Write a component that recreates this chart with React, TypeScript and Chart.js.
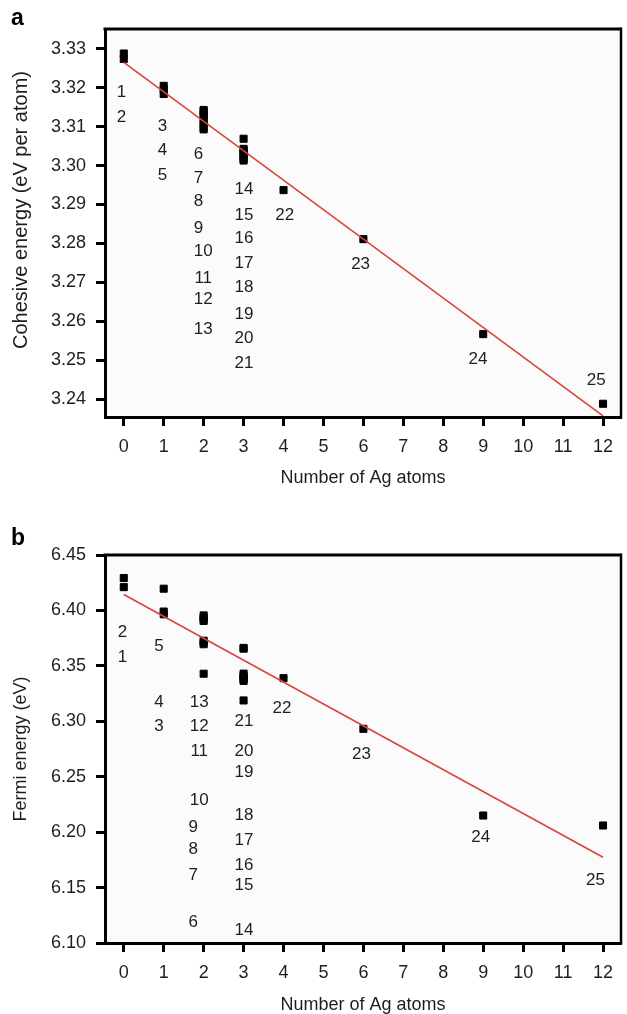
import React, { useEffect, useRef } from "react";
import { Chart, registerables } from "chart.js";
Chart.register(...registerables);

const FONT = '"Liberation Sans", Arial, Helvetica, sans-serif';
const TEXT = "#1e1e1e";
const RED = "#d8453c";

// ---------- shared ----------
const xTicks = [0, 1, 2, 3, 4, 5, 6, 7, 8, 9, 10, 11, 12];
const fitAtoms = [0, 12];

// ---------- panel a ----------
const atomsA = [0, 0, 1, 1, 1, 2, 2, 2, 2, 2, 2, 2, 2, 3, 3, 3, 3, 3, 3, 3, 3, 4, 6, 9, 12];
const cohesiveEnergy = [
  3.3288, 3.3274,
  3.3205, 3.3196, 3.3184,
  3.3143, 3.314, 3.3131, 3.3127, 3.3115, 3.3108, 3.3097, 3.3093,
  3.3069, 3.3043, 3.304, 3.3034, 3.3029, 3.3022, 3.3017, 3.3013,
  3.2937, 3.2811, 3.2567, 3.2388,
];
const cohesiveFit = [3.3265, 3.2357];
const yTicksA = [3.24, 3.25, 3.26, 3.27, 3.28, 3.29, 3.3, 3.31, 3.32, 3.33];
const labelTextA = ["1", "2", "3", "4", "5", "6", "7", "8", "9", "10", "11", "12", "13", "14", "15", "16", "17", "18", "19", "20", "21", "22", "23", "24", "25"];
const labelAtomsA = [
  -0.06, -0.06,
  0.97, 0.97, 0.97,
  1.87, 1.87, 1.87, 1.87, 1.99, 1.99, 1.99, 1.99,
  3.01, 3.01, 3.01, 3.01, 3.01, 3.01, 3.01, 3.01,
  4.03, 5.93, 8.87, 11.83,
];
const labelEnergyA = [
  3.3189, 3.3125,
  3.3102, 3.3038, 3.2974,
  3.3028, 3.2968, 3.2907, 3.284, 3.2781, 3.2711, 3.2657, 3.258,
  3.2938, 3.2873, 3.2812, 3.275, 3.2686, 3.2619, 3.2557, 3.2493,
  3.2873, 3.2747, 3.2503, 3.2449,
];

// ---------- panel b ----------
const atomsB = [0, 0, 1, 1, 1, 2, 2, 2, 2, 2, 2, 2, 2, 3, 3, 3, 3, 3, 3, 3, 3, 4, 6, 9, 12];
const fermiEnergy = [
  6.4292, 6.421,
  6.4196, 6.399, 6.3965,
  6.3955, 6.3935, 6.392, 6.3905, 6.3727, 6.371, 6.3695, 6.3429,
  6.3662, 6.3655, 6.343, 6.341, 6.3395, 6.3378, 6.3364, 6.3188,
  6.3389, 6.2932, 6.215, 6.206,
];
const fermiFit = [6.4144, 6.1774];
const yTicksB = [6.1, 6.15, 6.2, 6.25, 6.3, 6.35, 6.4, 6.45];
const labelTextB = labelTextA;
const labelAtomsB = [
  -0.03, -0.03,
  0.88, 0.88, 0.88,
  1.74, 1.74, 1.74, 1.74, 1.89, 1.89, 1.89, 1.89,
  3.01, 3.01, 3.01, 3.01, 3.01, 3.01, 3.01, 3.01,
  3.96, 5.95, 8.94, 11.81,
];
const labelEnergyB = [
  6.3579, 6.3805,
  6.2953, 6.3172, 6.3678,
  6.1191, 6.1614, 6.1843, 6.2043, 6.2284, 6.2726, 6.2953, 6.3172,
  6.111, 6.1516, 6.1705, 6.1925, 6.215, 6.2541, 6.2726, 6.2998,
  6.3118, 6.2704, 6.1954, 6.1562,
];

type PanelProps = {
  top: number;
  height: number;
  padTop: number;
  xAxisHeight: number;
  xTitlePad: number;
  letter: string;
  letterBaseline: number;
  yMin: number;
  yMax: number;
  yTicks: number[];
  yTitle: string;
  yTitleSize: number;
  yTitleShift: number;
  atoms: number[];
  values: number[];
  fit: number[];
  labelText: string[];
  labelAtoms: number[];
  labelValues: number[];
};

function Panel(p: PanelProps) {
  const ref = useRef<HTMLCanvasElement>(null);
  useEffect(() => {
    const canvas = ref.current;
    if (!canvas) return;

    const decor = {
      id: "decor",
      beforeDraw(chart: any) {
        const { ctx, chartArea: a } = chart;
        ctx.save();
        ctx.fillStyle = "#fbfbfb";
        ctx.fillRect(a.left, a.top, a.right - a.left, a.bottom - a.top);
        ctx.restore();
      },
      afterDatasetsDraw(chart: any) {
        const { ctx } = chart;
        const xs = chart.scales.x;
        const ys = chart.scales.y;
        ctx.save();
        ctx.fillStyle = TEXT;
        ctx.font = `17px ${FONT}`;
        ctx.textAlign = "center";
        ctx.textBaseline = "middle";
        p.labelText.forEach((t, i) => {
          ctx.fillText(t, xs.getPixelForValue(p.labelAtoms[i]), ys.getPixelForValue(p.labelValues[i]));
        });
        ctx.restore();
      },
      afterDraw(chart: any) {
        const { ctx, chartArea: a } = chart;
        ctx.save();
        ctx.strokeStyle = "#000";
        ctx.lineWidth = 3;
        ctx.beginPath();
        ctx.moveTo(a.left - 1.5, a.top);
        ctx.lineTo(a.right, a.top);
        ctx.stroke();
        ctx.lineWidth = 2.5;
        ctx.beginPath();
        ctx.moveTo(a.right, a.top - 1.5);
        ctx.lineTo(a.right, a.bottom + 1.5);
        ctx.stroke();
        // y axis title
        ctx.save();
        ctx.translate(21, (a.top + a.bottom) / 2 + p.yTitleShift);
        ctx.rotate(-Math.PI / 2);
        ctx.fillStyle = TEXT;
        ctx.font = `${p.yTitleSize}px ${FONT}`;
        ctx.textAlign = "center";
        ctx.textBaseline = "middle";
        ctx.fillText(p.yTitle, 0, 0);
        ctx.restore();
        // panel letter
        ctx.fillStyle = "#000";
        ctx.font = `bold 23px ${FONT}`;
        ctx.textAlign = "left";
        ctx.textBaseline = "alphabetic";
        ctx.fillText(p.letter, 11, p.letterBaseline);
        ctx.restore();
      },
    };

    const chart = new Chart(canvas, {
      type: "scatter",
      data: {
        datasets: [
          {
            data: fitAtoms.map((x, i) => ({ x, y: p.fit[i] })),
            showLine: true,
            borderColor: RED,
            borderWidth: 1.6,
            pointRadius: 0,
            order: 0,
          } as any,
          {
            data: p.atoms.map((x, i) => ({ x, y: p.values[i] })),
            pointStyle: "rect",
            pointRadius: 5,
            backgroundColor: "#000",
            borderColor: "#000",
            borderWidth: 1,
            order: 1,
          } as any,
        ],
      },
      options: {
        animation: false,
        responsive: false,
        events: [],
        layout: { padding: { top: p.padTop, right: 3, left: 0, bottom: 0 } },
        plugins: { legend: { display: false }, tooltip: { enabled: false } },
        scales: {
          x: {
            type: "linear",
            min: -0.47,
            max: 12.45,
            afterBuildTicks: (s: any) => {
              s.ticks = xTicks.map((v) => ({ value: v }));
            },
            afterFit: (s: any) => {
              s.height = p.xAxisHeight;
            },
            ticks: {
              padding: 10,
              color: TEXT,
              font: { size: 18, family: FONT },
              maxRotation: 0,
              callback: (v: any) => String(Math.round(Number(v))),
            },
            grid: { drawOnChartArea: false, drawTicks: true, tickLength: 9, tickWidth: 3, tickColor: "#000" },
            border: { display: true, color: "#000", width: 3 },
            title: {
              display: true,
              text: "Number of Ag atoms",
              color: TEXT,
              font: { size: 18, family: FONT },
              padding: { top: 0, bottom: p.xTitlePad },
            },
          },
          y: {
            type: "linear",
            min: p.yMin,
            max: p.yMax,
            afterBuildTicks: (s: any) => {
              s.ticks = p.yTicks.map((v) => ({ value: v }));
            },
            afterFit: (s: any) => {
              s.width = 105;
            },
            ticks: {
              padding: 10,
              color: TEXT,
              font: { size: 18, family: FONT },
              callback: (v: any) => Number(v).toFixed(2),
            },
            grid: { drawOnChartArea: false, drawTicks: true, tickLength: 9, tickWidth: 3, tickColor: "#000" },
            border: { display: true, color: "#000", width: 3 },
            title: { display: false },
          },
        },
      } as any,
      plugins: [decor],
    });
    return () => chart.destroy();
  }, []);
  return (
    <canvas
      ref={ref}
      width={627}
      height={p.height}
      style={{ position: "absolute", left: 0, top: p.top, width: 627, height: p.height, display: "block" }}
    />
  );
}

export default function App() {
  return (
    <div style={{ position: "fixed", left: 0, top: 0, width: 627, height: 1014, overflow: "hidden", background: "#fff" }}>
      <Panel
        top={0}
        height={500}
        padTop={29}
        xAxisHeight={83}
        xTitlePad={11}
        letter="a"
        letterBaseline={25}
        yMin={3.2354}
        yMax={3.3351}
        yTicks={yTicksA}
        yTitle="Cohesive energy (eV per atom)"
        yTitleSize={20}
        yTitleShift={-13}
        atoms={atomsA}
        values={cohesiveEnergy}
        fit={cohesiveFit}
        labelText={labelTextA}
        labelAtoms={labelAtomsA}
        labelValues={labelEnergyA}
      />
      <Panel
        top={500}
        height={520}
        padTop={55}
        xAxisHeight={77}
        xTitlePad={4}
        letter="b"
        letterBaseline={45}
        yMin={6.1}
        yMax={6.45}
        yTicks={yTicksB}
        yTitle="Fermi energy (eV)"
        yTitleSize={18}
        yTitleShift={0}
        atoms={atomsB}
        values={fermiEnergy}
        fit={fermiFit}
        labelText={labelTextB}
        labelAtoms={labelAtomsB}
        labelValues={labelEnergyB}
      />
    </div>
  );
}
